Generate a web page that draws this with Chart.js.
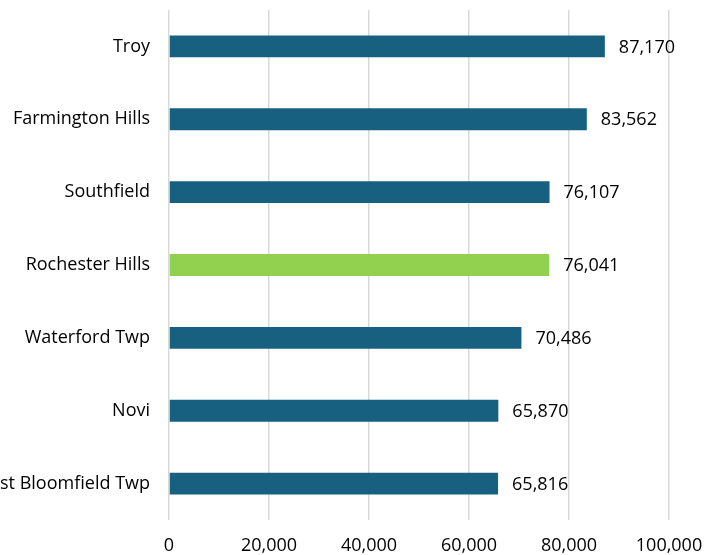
<!DOCTYPE html>
<html>
<head>
<meta charset="utf-8">
<script src="https://cdn.jsdelivr.net/npm/chart.js@4/dist/chart.umd.min.js"></script>
<style>
  html, body { margin: 0; padding: 0; background: #ffffff; }
  #wrap { width: 704px; height: 555px; position: relative; }
</style>
</head>
<body>
<div id="wrap"><canvas id="chart" width="704" height="555"></canvas></div>
<script>
// Median household income by community
const cities = ['Troy', 'Farmington Hills', 'Southfield', 'Rochester Hills', 'Waterford Twp', 'Novi', 'West Bloomfield Twp'];
const incomes = [87170, 83562, 76107, 76041, 70486, 65870, 65816];
const highlightCity = 'Rochester Hills';
const xTicks = [0, 20000, 40000, 60000, 80000, 100000];

const baseColor = '#17607f';
const highlightColor = '#92d050';
const fontFamily = '"Open Sans", "Noto Sans", sans-serif';
const fontSize = 18;

// Writes each bar's value just past its end
const valueLabels = {
  id: 'valueLabels',
  afterDatasetsDraw(chart) {
    const { ctx } = chart;
    const meta = chart.getDatasetMeta(0);
    ctx.save();
    ctx.font = fontSize + 'px ' + fontFamily;
    ctx.fillStyle = '#000000';
    ctx.textAlign = 'left';
    ctx.textBaseline = 'middle';
    meta.data.forEach((bar, i) => {
      const v = chart.data.datasets[0].data[i];
      ctx.fillText(v.toLocaleString('en-US'), bar.x + 14, bar.y + 1);
    });
    ctx.restore();
  }
};

// Keep the plot area fixed; labels may run past the canvas edge
function clearScalePadding(scale) {
  scale.paddingTop = 0;
  scale.paddingBottom = 0;
  scale.paddingLeft = 0;
  scale.paddingRight = 0;
}

new Chart(document.getElementById('chart'), {
  type: 'bar',
  data: {
    labels: cities,
    datasets: [{
      data: incomes,
      backgroundColor: cities.map(c => c === highlightCity ? highlightColor : baseColor),
      borderWidth: 0,
      barPercentage: 0.3,
      categoryPercentage: 1.0
    }]
  },
  options: {
    indexAxis: 'y',
    responsive: false,
    animation: false,
    layout: { padding: { top: 10, right: 35, bottom: 0, left: 0 } },
    plugins: {
      legend: { display: false },
      tooltip: { enabled: false }
    },
    scales: {
      x: {
        min: 0,
        max: 100000,
        afterBuildTicks(scale) { scale.ticks = xTicks.map(v => ({ value: v })); },
        afterFit(scale) { scale.height = 35; clearScalePadding(scale); },
        grid: { color: '#d9d9d9', lineWidth: 1.5, drawTicks: false },
        border: { display: false },
        ticks: {
          padding: 15,
          color: '#000000',
          font: { family: fontFamily, size: fontSize },
          maxRotation: 0,
          callback: v => Number(v).toLocaleString('en-US')
        }
      },
      y: {
        afterFit(scale) { scale.width = 169; clearScalePadding(scale); },
        grid: { display: false, drawTicks: false },
        border: { display: false },
        ticks: {
          padding: 19,
          color: '#000000',
          font: { family: fontFamily, size: fontSize }
        }
      }
    }
  },
  plugins: [valueLabels]
});
</script>
</body>
</html>
